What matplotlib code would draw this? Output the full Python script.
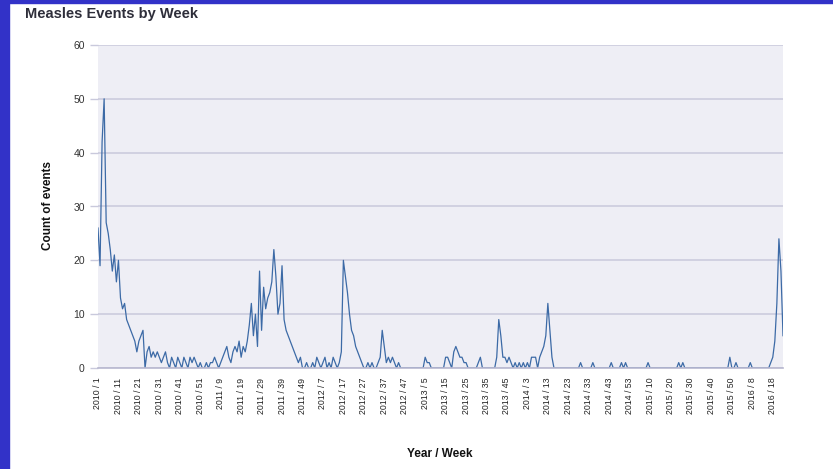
import matplotlib
matplotlib.use("Agg")
import matplotlib.pyplot as plt
from matplotlib.patches import Rectangle

plt.rcParams['font.family'] = ['Liberation Sans', 'DejaVu Sans']

# weekly counts, one list per year
y2010 = [26, 19, 42, 50, 27, 25, 22, 18, 21, 16, 20, 13, 11, 12, 9, 8, 7, 6, 5, 3,
         5, 6, 7, 0, 3, 4, 2, 3, 2, 3, 2, 1, 2, 3, 1, 0, 2, 1, 0, 2,
         1, 0, 2, 1, 0, 2, 1, 2, 1, 0, 1, 0]
y2011 = [0, 1, 0, 1, 1, 2, 1, 0, 1,
         2, 3, 4, 2, 1, 3, 4,
         3, 5, 2, 4, 3, 5,
         8, 12, 6, 10, 4,
         18, 7, 15, 11, 13,
         14, 16, 22, 17,
         10, 12, 19,
         9, 7, 6, 5, 4, 3, 2, 1, 2, 0, 0, 1, 0]
y2012 = [0, 1, 0, 2, 1, 0, 1, 2, 0, 1, 0, 2, 1, 0, 1, 3,
         20, 17, 14, 10, 7, 6, 4, 3, 2, 1, 0,
         0, 1, 0, 1, 0, 0, 1,
         2, 7, 4, 1, 2, 1, 2, 1, 0, 1,
         0, 0, 0, 0, 0, 0, 0, 0]
y2013 = [0, 0, 0, 0,
         2, 1, 1, 0,
         0, 0, 0, 0, 0, 0,
         2, 2, 1, 0,
         3, 4, 3, 2,
         2, 1, 1, 0, 0, 0, 0, 0,
         1, 2, 0, 0, 0, 0, 0, 0, 0,
         2, 9, 6, 2, 2, 1, 2, 1, 0, 1, 0, 1, 0]
y2014 = [1, 0, 1, 0, 2, 2, 2, 0,
         2, 3, 4, 6, 12, 7, 2, 0,
         0, 0, 0, 0, 0, 0, 0, 0, 0, 0, 0, 0,
         1,
         0, 0, 0, 0, 0,
         1,
         0, 0, 0, 0, 0, 0, 0, 0,
         1,
         0, 0, 0, 0,
         1, 0, 1, 0, 0]
y2015 = [0, 0, 0, 0, 0, 0, 0, 0,
         1,
         0, 0, 0, 0, 0, 0, 0, 0, 0, 0, 0, 0, 0, 0,
         1, 0, 1,
         0, 0, 0, 0, 0, 0, 0, 0, 0, 0, 0, 0, 0, 0, 0, 0, 0, 0, 0, 0, 0, 0,
         2, 0, 0, 1]
y2016 = [0, 0, 0, 0, 0, 0,
         1,
         0, 0, 0, 0, 0, 0, 0, 0, 0,
         1, 2, 5, 12, 24, 18, 6]

tick_labels = ["2010 / 1", "2010 / 11", "2010 / 21", "2010 / 31", "2010 / 41", "2010 / 51",
               "2011 / 9", "2011 / 19", "2011 / 29", "2011 / 39", "2011 / 49",
               "2012 / 7", "2012 / 17", "2012 / 27", "2012 / 37", "2012 / 47",
               "2013 / 5", "2013 / 15", "2013 / 25", "2013 / 35", "2013 / 45",
               "2014 / 3", "2014 / 13", "2014 / 23", "2014 / 33", "2014 / 43", "2014 / 53",
               "2015 / 10", "2015 / 20", "2015 / 30", "2015 / 40", "2015 / 50",
               "2016 / 8", "2016 / 18"]

counts = y2010 + y2011 + y2012 + y2013 + y2014 + y2015 + y2016
weeks = list(range(len(counts)))

grid_col = '#c9c9dc'

fig = plt.figure(figsize=(8.33, 4.69), dpi=100)
ax = fig.add_axes([98 / 833, 1 - 368 / 469, 685 / 833, 323 / 469])
ax.set_facecolor('#eeeef5')

ax.plot(weeks, counts, color='#3c6aa6', linewidth=0.9)

ax.set_xlim(0, len(counts) - 1)
ax.set_ylim(0, 60)
ax.set_yticks(range(0, 61, 10))
ax.set_xticks(range(0, 10 * len(tick_labels), 10))
ax.set_xticklabels(tick_labels, rotation=90, fontsize=6.3, color='#222222')
ax.tick_params(axis='x', length=0, pad=7)
ax.tick_params(axis='y', length=6, width=1, color=grid_col, pad=3.5,
               labelsize=7.5, labelcolor='#333333')
ax.yaxis.grid(True, color=grid_col, linewidth=1.1)
ax.set_axisbelow(True)
for s in ['top', 'right', 'left']:
    ax.spines[s].set_visible(False)
ax.spines['bottom'].set_color('#b8b8d0')
ax.spines['bottom'].set_linewidth(1.2)

fig.text(25 / 833, 1 - 14 / 469, "Measles Events by Week", fontsize=10.5,
         fontweight='bold', color='#2e2e3a', va='center', ha='left')
fig.text(48 / 833, 1 - 206 / 469, "Count of events", fontsize=8.5,
         fontweight='bold', rotation=90, va='center', ha='center', color='#111111')
fig.text(440 / 833, 1 - 454 / 469, "Year / Week", fontsize=8.5,
         fontweight='bold', va='center', ha='center', color='#111111')

# blue frame on left and top edge
fig.patches.append(Rectangle((0, 0), 9 / 833, 1, transform=fig.transFigure,
                             color='#3232c8', zorder=10))
fig.patches.append(Rectangle((0, 1 - 3 / 469), 1, 3 / 469, transform=fig.transFigure,
                             color='#3232c8', zorder=10))

fig.savefig("out.png", dpi=100)
